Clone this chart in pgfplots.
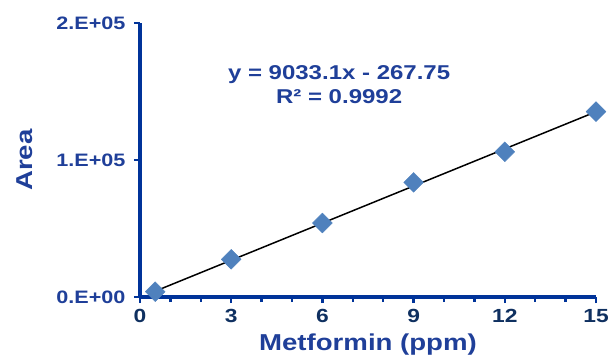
\documentclass[border=0pt]{standalone}
\usepackage{fontspec}
\setmainfont{Liberation Sans}[FakeStretch=1.2]
\usepackage{pgfplots}
\pgfplotsset{compat=1.18}
\definecolor{axblue}{RGB}{0,51,153}
\definecolor{txtblue}{RGB}{31,63,153}
\definecolor{navy}{RGB}{15,48,96}
\definecolor{mk}{RGB}{79,129,189}
\begin{document}
\begin{tikzpicture}
\path[use as bounding box] (-140pt,-61pt) rectangle (469pt,297pt);
\begin{axis}[
  at={(0pt,0pt)}, anchor=south west,
  scale only axis, width=456pt, height=274pt,
  xmin=0, xmax=15, ymin=0, ymax=200000,
  axis x line=bottom, axis y line=left,
  axis line style={axblue, line width=3.2pt, -},
  xtick={0,3,6,9,12,15}, minor xtick={1,2,4,5,7,8,10,11,13,14},
  ytick={0,100000,200000}, yticklabels={0.E+00,1.E+05,2.E+05},
  scaled y ticks=false,
  tick align=outside,
  major tick length=6pt, minor tick length=5pt,
  every tick/.style={axblue, line width=2.5pt},
  /pgf/number format/assume math mode=true,
  xticklabel style={font=\fontsize{19}{22}\selectfont\bfseries, text=navy, yshift=-3pt},
  yticklabel style={font=\fontsize{18}{20}\selectfont\bfseries, text=txtblue, xshift=-5pt},
  xlabel={Metformin (ppm)}, ylabel={Area},
  xlabel style={font=\fontsize{23}{26}\selectfont\bfseries, text=txtblue, at={(axis description cs:0.5,-0.172)}, anchor=center},
  ylabel style={font=\fontsize{23}{26}\selectfont\bfseries, text=txtblue, at={(axis description cs:-0.252,0.5)}, anchor=center},
  clip=false,
]
\addplot[black, line width=1.5pt] coordinates {(0.5,4249) (15,135229)};
\addplot[only marks, mark=square*, mark size=7pt, mark options={rotate=45, fill=mk, draw=mk}] coordinates {
(0.5,3900) (3,27500) (6,54000) (9,83700) (12,106000) (15,135300)};
\node[align=center, font=\fontsize{20}{24}\selectfont\bfseries, text=txtblue] at (axis cs:6.55,155000) {y = 9033.1x - 267.75\\R² = 0.9992};
\end{axis}
\end{tikzpicture}
\end{document}
